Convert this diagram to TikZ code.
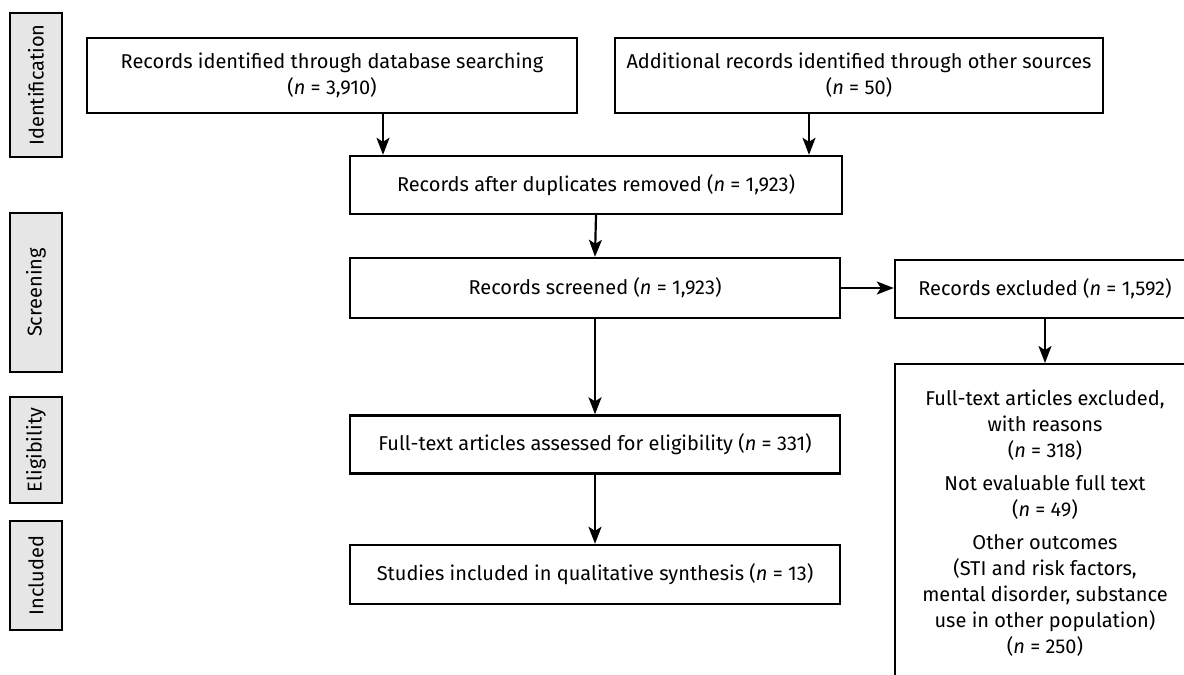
\documentclass[tikz,border=0pt]{standalone}
\usepackage{fontspec}
\setmainfont{Fira Sans}
\usetikzlibrary{arrows.meta}
\definecolor{stagegray}{HTML}{E6E6E6}
\tikzset{
  stage/.style={draw, line width=2.4pt, fill=stagegray, rotate=90, minimum height=52pt, inner sep=0pt},
  record/.style={draw, line width=2.4pt, align=center, inner sep=0pt, minimum width=490pt},
  flow/.style={line width=2.2pt, -{Stealth[length=17pt,width=13pt,inset=4pt]}},
}
\newcommand{\nn}{\textit{n}}
\begin{document}
\begin{tikzpicture}[x=1pt,y=-1pt,font=\fontsize{20}{26}\selectfont]
\useasboundingbox[fill=white] (0,0) rectangle (1184,675);
% phases on the left
\node[stage,minimum width=144pt] (ident) at (36,85) {Identification};
\node[stage,minimum width=159pt] (screen) at (36,292.5) {Screening};
\node[stage,minimum width=106pt] (elig) at (36,450) {Eligibility};
\node[stage,minimum width=109pt] (incl) at (36,575.5) {Included};
% records
\node[record,minimum height=75pt] (dbase) at (332,75.5) {Records identified through database searching\\(\nn{} = 3,910)};
\node[record,minimum width=488pt,minimum height=75pt] (other) at (859,75.5) {Additional records identified through other sources\\(\nn{} = 50)};
\node[record,minimum width=492pt,minimum height=58pt] (dupl) at (596,185) {Records after duplicates removed (\nn{} = 1,923)};
\node[record,minimum height=60pt] (scrd) at (595,288) {Records screened (\nn{} = 1,923)};
\node[record,minimum height=58pt] (full) at (595,444.5) {Full-text articles assessed for eligibility (\nn{} = 331)};
\node[record,minimum height=59pt] (stud) at (595,574.5) {Studies included in qualitative synthesis (\nn{} = 13)};
\node[record,minimum width=300pt,minimum height=58pt] (excl) at (1045,289) {Records excluded (\nn{} = 1,592)};
\node[record,minimum width=300pt,minimum height=318pt,anchor=north] (reas) at (1045,363) {Full-text articles excluded,\\with reasons\\(\nn{} = 318)\\[7pt]
Not evaluable full text\\(\nn{} = 49)\\[7pt]
Other outcomes\\(STI and risk factors,\\mental disorder, substance\\use in other population)\\(\nn{} = 250)};
% arrows
\draw[flow] ([xshift=51pt]dbase.south) -- ([xshift=51pt]dbase.south |- dupl.north);
\draw[flow] ([xshift=-50pt]other.south) -- ([xshift=-50pt]other.south |- dupl.north);
\draw[flow] (dupl.south) -- (scrd.north);
\draw[flow] (scrd.south) -- (full.north);
\draw[flow] (full.south) -- (stud.north);
\draw[flow] (scrd.east) -- (scrd.east -| excl.west);
\draw[flow] (excl.south) -- (reas.north);
\end{tikzpicture}
\end{document}
